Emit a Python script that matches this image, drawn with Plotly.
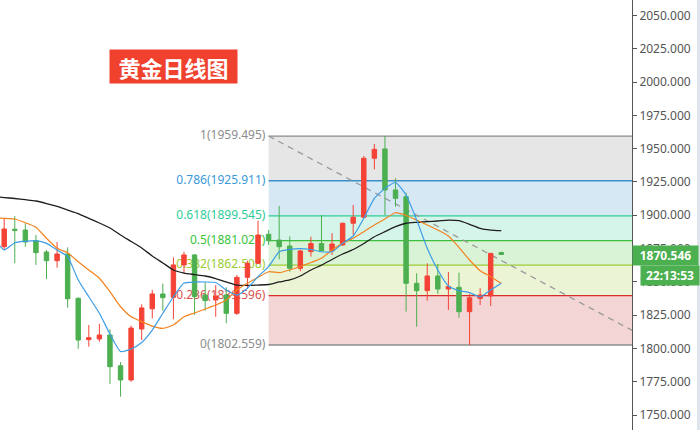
import plotly.graph_objects as go

# ---------------- data ----------------
candle_idx = list(range(48))
opens = [1876.4, 1889.5, 1888.9, 1880.9, 1872.4, 1865.9, 1870.9, 1837.6, 1806.6, 1807.1,
         1810.1, 1787.0, 1776.3, 1814.6, 1829.8, 1840.9, 1838.4, 1862.7, 1870.2, 1840.1,
         1836.4, 1840.1, 1826.4, 1853.4, 1863.9, 1885.7, 1881.4, 1876.9, 1860.2, 1872.7,
         1878.8, 1873.4, 1877.7, 1894.0, 1898.5, 1942.8, 1949.8, 1919.0, 1913.9, 1848.9,
         1843.4, 1854.4, 1844.6, 1845.9, 1827.6, 1837.6, 1839.4, 1872.0]
highs = [1897.7, 1899.4, 1894.0, 1885.2, 1873.9, 1879.9, 1875.9, 1838.4, 1817.6, 1818.4,
         1814.4, 1789.8, 1817.1, 1833.1, 1843.9, 1848.6, 1868.4, 1872.6, 1870.8, 1849.7,
         1847.6, 1845.9, 1855.1, 1865.9, 1895.9, 1888.9, 1906.9, 1884.2, 1874.2, 1883.9,
         1900.2, 1886.5, 1894.5, 1907.7, 1944.5, 1953.5, 1959.495, 1927.8, 1917.0, 1856.4,
         1863.9, 1863.4, 1857.4, 1856.9, 1840.9, 1845.2, 1871.6, 1872.6]
lows = [1873.9, 1864.0, 1876.4, 1862.7, 1852.1, 1860.6, 1830.6, 1799.8, 1801.3, 1805.0,
        1773.3, 1763.8, 1775.0, 1806.3, 1822.6, 1828.3, 1821.9, 1856.4, 1825.1, 1828.3,
        1823.8, 1818.9, 1825.1, 1845.2, 1863.4, 1877.7, 1866.9, 1857.6, 1858.0, 1868.9,
        1872.6, 1870.2, 1877.0, 1885.2, 1897.7, 1934.5, 1900.2, 1906.4, 1827.6, 1816.3,
        1835.9, 1840.9, 1828.9, 1823.1, 1802.559, 1832.6, 1831.9, 1870.3]
closes = [1889.7, 1888.5, 1879.9, 1871.9, 1865.9, 1870.9, 1837.3, 1806.3, 1808.1, 1810.1,
          1786.3, 1776.3, 1815.3, 1830.4, 1840.9, 1838.1, 1862.7, 1870.2, 1838.9, 1835.9,
          1839.4, 1826.4, 1853.4, 1863.9, 1885.2, 1880.9, 1876.4, 1860.2, 1873.2, 1878.8,
          1873.4, 1878.4, 1894.0, 1898.5, 1942.8, 1949.5, 1919.0, 1912.7, 1848.9, 1843.4,
          1854.4, 1844.6, 1846.4, 1827.6, 1838.1, 1840.1, 1871.4, 1870.546]

ma_idx = list(range(-1, 48))
ma_fast = [1882.9, 1873.9, 1879.4, 1880.4, 1880.9, 1878.9, 1873.9, 1868.9, 1851.4, 1838.8,
           1826.4, 1810.8, 1797.7, 1799.6, 1804.5, 1813.8, 1826.4, 1838.8, 1849.1, 1849.9,
           1849.9, 1849.5, 1843.9, 1840.1, 1845.2, 1853.9, 1861.4, 1872.6, 1874.4, 1875.0,
           1874.3, 1872.6, 1872.6, 1878.9, 1884.4, 1897.7, 1912.7, 1920.2, 1924.6, 1915.2,
           1896.4, 1875.2, 1858.9, 1846.9, 1843.4, 1841.9, 1838.8, 1843.9, 1848.9]
ma_mid = [1897.9, 1897.7, 1897.2, 1894.4, 1891.0, 1882.7, 1875.2, 1871.9, 1865.1, 1858.9,
          1852.7, 1842.6, 1831.3, 1823.8, 1820.1, 1816.8, 1815.1, 1817.6, 1823.8, 1826.6,
          1829.6, 1832.6, 1836.4, 1843.9, 1848.9, 1853.4, 1857.6, 1856.9, 1858.9, 1861.5,
          1864.5, 1867.7, 1873.9, 1878.9, 1882.7, 1887.7, 1892.7, 1897.2, 1901.9, 1899.8,
          1896.4, 1892.7, 1888.9, 1884.4, 1875.9, 1866.4, 1858.4, 1853.9, 1848.9]
ma_slow = [1914.1, 1913.3, 1912.6, 1911.7, 1910.7, 1908.8, 1906.6, 1903.9, 1901.3, 1897.7,
           1894.2, 1890.4, 1885.2, 1880.3, 1875.4, 1869.4, 1864.2, 1858.9, 1856.6, 1855.5,
           1854.4, 1852.5, 1849.9, 1847.6, 1847.4, 1847.6, 1848.0, 1849.9, 1851.4, 1854.4,
           1858.9, 1862.6, 1866.8, 1870.9, 1874.3, 1878.8, 1883.9, 1887.7, 1891.4, 1894.0,
           1894.7, 1895.2, 1895.7, 1896.4, 1895.9, 1893.2, 1890.2, 1888.9, 1888.4]

fib_ratios = [1, 0.786, 0.618, 0.5, 0.382, 0.236, 0]
fib_prices = [1959.495, 1925.911, 1899.545, 1881.027, 1862.508, 1839.596, 1802.559]
fib_start = 25
trend_x = [25, 60]
trend_y = [1959.495, 1810.9]

y_ticks = [1750, 1775, 1800, 1825, 1850, 1875, 1900, 1925, 1950, 1975, 2000, 2025, 2050]
last_price = 1870.546
countdown = "22:13:53"
title_text = "黄金日线图"

# ---------------- styles ----------------
RED = "#f44336"
GREEN = "#4caf50"
FONT = "Noto Sans"
fib_line_colors = ["#8c8c8c", "#3d8fc9", "#2bcc94", "#3cbf3c", "#9ccb34", "#d62c2c", "#8c8c8c"]
fib_text_colors = ["#8c8c8c", "#3a9ad9", "#2ecc9a", "#3ac43a", "#9acd32", "#d9534f", "#8c8c8c"]
fib_fill_colors = ["#e6e6e6", "#d5e8f4", "#d5f5ea", "#d9f3d6", "#ebf4d5", "#f3d5d5"]

X_RANGE = [-0.397, 59.36]
Y_RANGE = [1738.75, 2061.64]

fig = go.Figure()

# fib bands and level lines
shapes = []
for i in range(len(fib_prices) - 1):
    shapes.append(dict(type="rect", xref="x", yref="y", x0=fib_start, x1=X_RANGE[1],
                       y0=fib_prices[i + 1], y1=fib_prices[i], fillcolor=fib_fill_colors[i],
                       line=dict(width=0), layer="below"))
for p, c in zip(fib_prices, fib_line_colors):
    shapes.append(dict(type="line", xref="x", yref="y", x0=fib_start, x1=X_RANGE[1],
                       y0=p, y1=p, line=dict(color=c, width=1.3), layer="below"))
shapes.append(dict(type="rect", xref="paper", yref="paper", x0=697 / 632, x1=700 / 632,
                   y0=0, y1=1, fillcolor="#dfe5ec", line=dict(width=0)))

# base subplot: fib labels + trend line (under candles)
fig.add_trace(go.Scatter(
    x=[fib_start - 0.3] * len(fib_prices), y=fib_prices, mode="text",
    text=[f"{r:g}({p:.3f})" for r, p in zip(fib_ratios, fib_prices)],
    textposition="middle left", textfont=dict(family=FONT, size=12, color=fib_text_colors),
    hoverinfo="skip", showlegend=False, cliponaxis=False))
fig.add_trace(go.Scatter(
    x=trend_x, y=trend_y, mode="lines", line=dict(color="#9a9a9a", width=1.3, dash="6px,5px"),
    hoverinfo="skip", showlegend=False))

# overlay subplot: candles + moving averages
fig.add_trace(go.Candlestick(
    x=candle_idx, open=opens, high=highs, low=lows, close=closes,
    increasing=dict(line=dict(color=RED, width=1), fillcolor=RED),
    decreasing=dict(line=dict(color=GREEN, width=1), fillcolor=GREEN),
    whiskerwidth=0, xaxis="x2", yaxis="y2", showlegend=False, hoverinfo="skip"))
for vals, col, w in [(ma_slow, "#1e1e1e", 1.3), (ma_mid, "#f5821f", 1.2), (ma_fast, "#3c9de6", 1.2)]:
    fig.add_trace(go.Scatter(x=ma_idx, y=vals, mode="lines", xaxis="x2", yaxis="y2",
                             line=dict(color=col, width=w, shape="spline", smoothing=0.5),
                             hoverinfo="skip", showlegend=False))

annotations = [
    dict(text=f"<b>{title_text}</b>", xref="paper", yref="paper", x=173.5 / 632, y=1 - 66.5 / 430,
         showarrow=False, bgcolor="#f0412f", font=dict(family="Noto Sans CJK SC", size=22, color="white"),
         width=127, height=33, borderpad=0, xanchor="center", yanchor="middle"),
    dict(text=f"<b>{last_price:.3f}</b>", xref="paper", yref="y", x=1.0, y=last_price - 0.8,
         showarrow=False, bgcolor=GREEN, font=dict(family=FONT, size=12, color="white"),
         width=65, height=19, borderpad=0, xanchor="left", yanchor="middle"),
    dict(text=f"<b>{countdown}</b>", xref="paper", yref="y", x=640 / 632, y=1854.8,
         showarrow=False, bgcolor=GREEN, font=dict(family=FONT, size=12, color="white"),
         width=58, height=19, borderpad=0, xanchor="left", yanchor="middle"),
]

fig.update_layout(
    width=700, height=430, margin=dict(l=0, r=68, t=0, b=0),
    paper_bgcolor="white", plot_bgcolor="white",
    shapes=shapes, annotations=annotations, boxgap=0.4,
    xaxis=dict(range=X_RANGE, visible=False, rangeslider=dict(visible=False)),
    yaxis=dict(range=Y_RANGE, side="right", showgrid=False, zeroline=False,
               showline=True, linecolor="#555555", linewidth=1,
               ticks="outside", ticklen=4, tickcolor="#555555",
               tickvals=y_ticks, tickformat=".3f",
               tickfont=dict(family=FONT, size=12, color="#555555")),
    xaxis2=dict(range=X_RANGE, overlaying="x", anchor="y2", visible=False,
                rangeslider=dict(visible=False)),
    yaxis2=dict(range=Y_RANGE, overlaying="y", anchor="x2", visible=False),
    showlegend=False,
)

fig.write_html("out.html", config={"displayModeBar": False},
               post_script="document.body.style.margin='0px';document.body.style.overflow='hidden';")
